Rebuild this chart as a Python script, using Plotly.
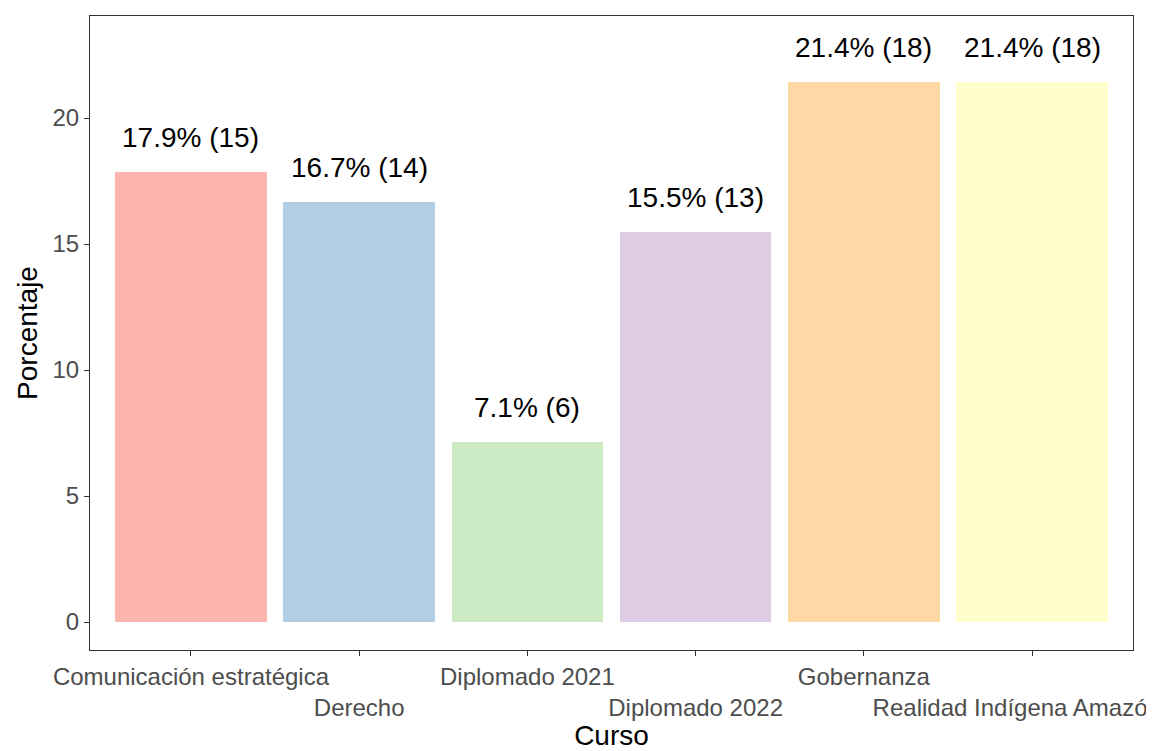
import plotly.graph_objects as go

# Data
cursos = [
    "Comunicación estratégica",
    "Derecho",
    "Diplomado 2021",
    "Diplomado 2022",
    "Gobernanza",
    "Realidad Indígena Amazónica",
]
porcentajes = [17.857, 16.667, 7.143, 15.476, 21.429, 21.429]
conteos = [15, 14, 6, 13, 18, 18]
colores = ["#FBB4AE", "#B3CDE3", "#CCEBC5", "#DECBE4", "#FED9A6", "#FFFFCC"]

FONT = "Liberation Sans, Arial, sans-serif"

xs = list(range(len(cursos)))
# alternate tick labels on two rows (like guide_axis(n.dodge = 2))
tick_labels = [c if i % 2 == 0 else "<br>" + c for i, c in enumerate(cursos)]

fig = go.Figure()
fig.add_trace(
    go.Bar(
        x=xs,
        y=porcentajes,
        width=0.9,
        marker=dict(color=colores, line=dict(width=0)),
        showlegend=False,
        hoverinfo="skip",
    )
)

# Bar labels
for x, p, n in zip(xs, porcentajes, conteos):
    fig.add_annotation(
        x=x,
        y=p,
        text=f"{p:.1f}% ({n})",
        showarrow=False,
        yanchor="middle",
        yshift=35,
        font=dict(family=FONT, size=28, color="black"),
    )

# page body has an 8px margin, so the figure is shifted by (8, 8)
fig.update_layout(
    width=1146,
    height=743,
    margin=dict(l=82, r=21, t=8, b=101),
    plot_bgcolor="white",
    paper_bgcolor="white",
    bargap=0,
    font=dict(family=FONT),
)

fig.update_xaxes(
    range=[-0.6, 5.6],
    tickmode="array",
    tickvals=xs,
    ticktext=tick_labels,
    tickangle=0,
    ticklabeloverflow="allow",
    showgrid=False,
    zeroline=False,
    showline=True,
    mirror=True,
    linecolor="#333333",
    linewidth=1.2,
    ticks="outside",
    ticklen=5,
    tickcolor="#333333",
    tickwidth=1.2,
    tickfont=dict(family=FONT, size=24, color="#4D4D4D"),
    automargin=False,
    title=dict(text="Curso", font=dict(family=FONT, size=28, color="black"), standoff=2),
)
fig.update_yaxes(
    range=[-1.11, 24.05],
    tickvals=[0, 5, 10, 15, 20],
    showgrid=False,
    zeroline=False,
    showline=True,
    mirror=True,
    linecolor="#333333",
    linewidth=1.2,
    ticks="outside",
    ticklen=5,
    tickcolor="#333333",
    tickwidth=1.2,
    tickfont=dict(family=FONT, size=24, color="#4D4D4D"),
    automargin=False,
    title=dict(text="Porcentaje", font=dict(family=FONT, size=28, color="black"), standoff=6),
)

fig.write_html("out.html")
